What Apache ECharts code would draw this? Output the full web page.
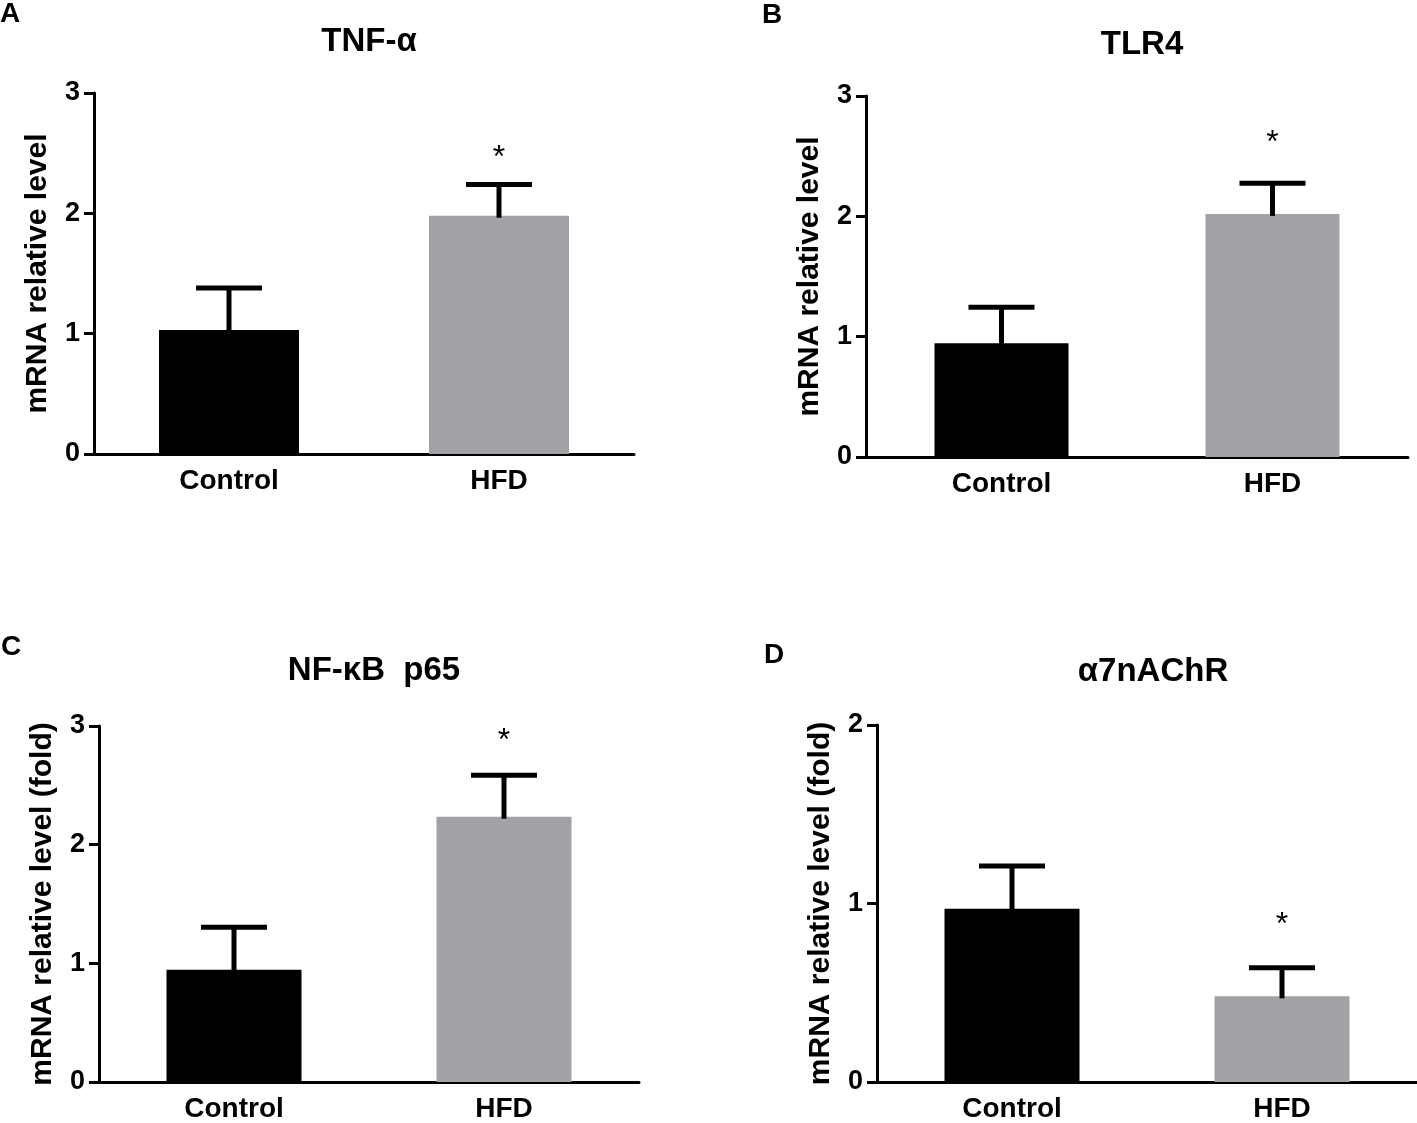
<!DOCTYPE html>
<html>
<head>
<meta charset="utf-8">
<script src="https://cdn.jsdelivr.net/npm/echarts@6/dist/echarts.min.js"></script>
<style>
  body { margin: 0; background: #fff; }
  #contain { width: 1417px; height: 1123px; }
</style>
</head>
<body>
<div id="contain"></div>
<script>
// groups on the x axis
var categories = ['Control', 'HFD'];

// A - TNF-a
var tnfMean = [1.03, 1.98];
var tnfSd = [0.35, 0.26];
var tnfStar = 2.51;
// B - TLR4
var tlr4Mean = [0.945, 2.02];
var tlr4Sd = [0.30, 0.255];
var tlr4Star = 2.66;
// C - NF-kB p65
var nfkbMean = [0.945, 2.235];
var nfkbSd = [0.36, 0.35];
var nfkbStar = 2.92;
// D - a7nAChR
var a7Mean = [0.97, 0.48];
var a7Sd = [0.24, 0.16];
var a7Star = 0.915;

var yTicks3 = [0, 3, 1];   // min, max, interval
var yTicks2 = [0, 2, 1];

var FONT = '"Liberation Sans", Arial, sans-serif';
var barColors = ['#000000', '#a2a1a6'];

var panels = [
    {letter: 'A', title: 'TNF-\u03b1', name: 'mRNA relative level', mean: tnfMean, sd: tnfSd, star: tnfStar, ticks: yTicks3,
        grid: {left: 94, top: 93, width: 540, height: 361}, barWidth: 140, letterPos: [0, 0], titleTop: 20},
    {letter: 'B', title: 'TLR4', name: 'mRNA relative level', mean: tlr4Mean, sd: tlr4Sd, star: tlr4Star, ticks: yTicks3,
        grid: {left: 866, top: 96, width: 542, height: 361}, barWidth: 134, letterPos: [762, 1], titleTop: 23},
    {letter: 'C', title: 'NF-\u03baB  p65', name: 'mRNA relative level (fold)', mean: nfkbMean, sd: nfkbSd, star: nfkbStar, ticks: yTicks3,
        grid: {left: 99, top: 726, width: 540, height: 360}, barWidth: 135, letterPos: [1, 633], titleTop: 649},
    {letter: 'D', title: '\u03b17nAChR', name: 'mRNA relative level (fold)', mean: a7Mean, sd: a7Sd, star: a7Star, ticks: yTicks2,
        grid: {left: 877, top: 725, width: 542, height: 360}, barWidth: 135, letterPos: [764, 641], titleTop: 650}
];

/**
 * error bar: stem from mean to mean+sd, with a cap
 */
function renderErr(params, api) {
    var x = api.value(0), m = api.value(1), s = api.value(2);
    var base = api.coord([x, m]);
    var top = api.coord([x, m + s]);
    var hw = 33;
    return {
        type: 'group',
        children: [
            {type: 'line', shape: {x1: base[0], y1: base[1] + 2, x2: base[0], y2: top[1]},
                style: {stroke: '#000', lineWidth: 5}},
            {type: 'line', shape: {x1: base[0] - hw, y1: top[1], x2: base[0] + hw, y2: top[1]},
                style: {stroke: '#000', lineWidth: 5}}
        ]
    };
}

/**
 * significance mark above a bar
 */
function renderStar(params, api) {
    var p = api.coord([api.value(0), api.value(1)]);
    return {
        type: 'text',
        x: p[0], y: p[1] + 6,
        style: {text: '*', font: 'normal 32px ' + FONT, fill: '#000', textAlign: 'center', textVerticalAlign: 'middle'}
    };
}

var option = {
    backgroundColor: '#fff',
    animation: false,
    title: [], grid: [], xAxis: [], yAxis: [], series: []
};

panels.forEach(function (p, i) {
    var cx = p.grid.left + p.grid.width / 2;
    option.title.push({
        text: p.title, left: cx, top: p.titleTop, textAlign: 'center',
        textStyle: {fontFamily: FONT, fontWeight: 'bold', fontSize: 33, color: '#000'}
    });
    option.title.push({
        text: p.letter, left: p.letterPos[0], top: p.letterPos[1], padding: 0,
        textStyle: {fontFamily: FONT, fontWeight: 'bold', fontSize: 28, color: '#000'}
    });
    option.grid.push(p.grid);
    option.xAxis.push({
        type: 'category', gridIndex: i, data: categories,
        axisLine: {lineStyle: {color: '#000', width: 3}},
        axisTick: {alignWithLabel: true, length: 10, lineStyle: {color: '#000', width: 3}},
        axisLabel: {color: '#000', fontFamily: FONT, fontWeight: 'bold', fontSize: 28, margin: 13}
    });
    option.yAxis.push({
        type: 'value', gridIndex: i, min: p.ticks[0], max: p.ticks[1], interval: p.ticks[2],
        name: p.name, nameLocation: 'middle', nameGap: 41,
        nameTextStyle: {color: '#000', fontFamily: FONT, fontWeight: 'bold', fontSize: 30},
        splitLine: {show: false},
        axisLine: {show: true, lineStyle: {color: '#000', width: 3}},
        axisTick: {show: true, length: 10, lineStyle: {color: '#000', width: 3}},
        axisLabel: {color: '#000', fontFamily: FONT, fontWeight: 'bold', fontSize: 27, margin: 14}
    });
    option.series.push({
        type: 'bar', xAxisIndex: i, yAxisIndex: i, barWidth: p.barWidth,
        data: p.mean.map(function (v, k) { return {value: v, itemStyle: {color: barColors[k]}}; })
    });
    option.series.push({
        type: 'custom', xAxisIndex: i, yAxisIndex: i, renderItem: renderErr, z: 3,
        data: p.mean.map(function (v, k) { return [k, v, p.sd[k]]; })
    });
    option.series.push({
        type: 'custom', xAxisIndex: i, yAxisIndex: i, renderItem: renderStar, z: 4,
        data: [[1, p.star]]
    });
});

var myChart = echarts.init(document.getElementById('contain'));
myChart.setOption(option);
</script>
</body>
</html>
